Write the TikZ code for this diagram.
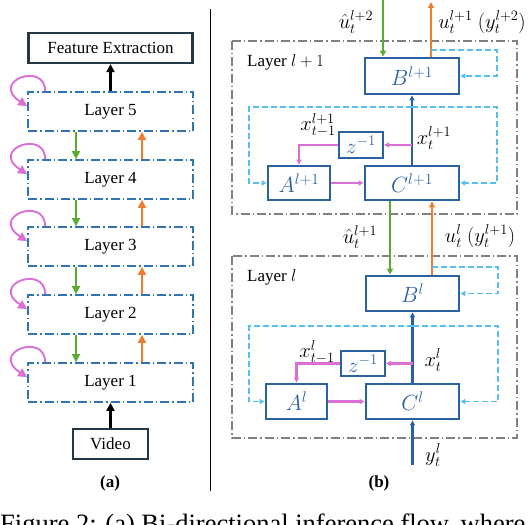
\RequirePackage{fix-cm}
\documentclass[tikz,border=0pt]{standalone}
\usepackage{fontspec}
\setmainfont{Liberation Serif}
\usetikzlibrary{arrows.meta,calc}
\definecolor{lblue}{RGB}{46,117,182}
\definecolor{dblue}{RGB}{42,98,160}
\definecolor{cgreen}{RGB}{92,170,52}
\definecolor{corange}{RGB}{237,125,49}
\definecolor{cpink}{RGB}{218,112,214}
\definecolor{cdash}{RGB}{86,190,240}
\definecolor{cgray}{RGB}{128,128,128}
\definecolor{cframe}{RGB}{35,55,70}
\tikzset{
  dashdot/.style={dash pattern=on 9pt off 3pt on 1.5pt off 3pt},
  layerbox/.style={draw=lblue, line width=1.7pt, dashdot, minimum width=165pt, minimum height=39pt, inner sep=0pt, font=\fontsize{17}{20}\selectfont},
  framebox/.style={draw=cframe, line width=2.2pt, minimum height=30pt, inner sep=0pt, font=\fontsize{17}{20}\selectfont},
  outerbox/.style={draw=cgray, line width=1.5pt, dashdot},
  blk/.style={draw=dblue, line width=2.8pt, text=dblue, inner sep=0pt, font=\fontsize{22}{25}\selectfont},
  lab/.style={inner sep=0pt, font=\fontsize{20.5}{23}\selectfont},
  txt/.style={inner sep=0pt, font=\fontsize{17}{20}\selectfont},
  gA/.style={draw=cgreen, line width=2.2pt, -{Triangle[length=8pt,width=8pt]}},
  oA/.style={draw=corange, line width=2.2pt, -{Triangle[length=8pt,width=8pt]}},
  kA/.style={draw=black, line width=2.2pt, -{Triangle[length=8pt,width=8pt]}},
  loopA/.style={draw=cpink, line width=1.9pt, -{Triangle[length=9pt,width=9pt]}},
  gB/.style={draw=cgreen, line width=2.2pt, -{Triangle[length=6pt,width=6pt]}},
  oB/.style={draw=corange, line width=2.2pt, -{Triangle[length=6pt,width=6pt]}},
  bB/.style={draw=dblue, line width=2.4pt, -{Triangle[length=5pt,width=5pt]}},
  pB/.style={draw=cpink, line width=2.2pt, -{Triangle[length=5pt,width=5pt]}},
  dB/.style={draw=cdash, line width=1.8pt, dash pattern=on 6pt off 3pt, -{Triangle[length=5pt,width=5pt]}},
}
\begin{document}
\begin{tikzpicture}[x=1pt,y=-1pt]
\useasboundingbox (0,0) rectangle (532,524);

% ---------- (a) ----------
\node[framebox, minimum width=164pt] (FE) at (110.5,48) {Feature Extraction};
\node[layerbox] (L5) at (110.5,111.5) {Layer 5};
\node[layerbox] (L4) at (110.5,179.5) {Layer 4};
\node[layerbox] (L3) at (110.5,246.5) {Layer 3};
\node[layerbox] (L2) at (110.5,314.5) {Layer 2};
\node[layerbox] (L1) at (110.5,382.5) {Layer 1};
\node[framebox, minimum width=75pt] (VID) at (110.5,444) {Video};
\node[txt, font=\fontsize{17}{20}\selectfont\bfseries] (capa) at (110,483) {(a)};

\draw[kA] (L5.north -| FE.south) -- (FE.south);
\draw[kA] (VID.north) -- (L1.south -| VID.north);

\coordinate (ga) at (76,0);
\coordinate (oa) at (142,0);
\foreach \u/\l in {L5/L4,L4/L3,L3/L2,L2/L1}{
  \draw[gA] (\u.south -| ga) -- (\l.north -| ga);
  \draw[oA] (\l.north -| oa) -- (\u.south -| oa);
}
\foreach \L in {L5,L4,L3,L2,L1}{
  \draw[loopA] ($(\L.north west)+(18,0)$) .. controls +(0,-30) and +(-38,-25) .. ($(\L.north west)+(0,15)$);
}

% divider
\draw[line width=1.5pt] (210.5,9) -- (210.5,491);

% ---------- (b) ----------
\draw[outerbox] (232,41) rectangle (517,214);
\draw[outerbox] (232,256) rectangle (517,438);
\node[txt, anchor=west] (lay1) at (247,62) {Layer $l+1$};
\node[txt, anchor=west] (lay0) at (247,277) {Layer $l$};

% layer l+1
\node[blk, minimum width=94pt, minimum height=36pt] (B1) at (412,76) {$B^{l+1}$};
\node[blk, minimum width=94pt, minimum height=34pt] (C1) at (412,183) {$C^{l+1}$};
\node[blk, minimum width=62pt, minimum height=34pt] (A1) at (299,183) {$A^{l+1}$};
\node[blk, line width=2pt, minimum width=44pt, minimum height=26pt, font=\fontsize{21}{23}\selectfont] (Z1) at (361,145) {$z^{-1}$};

% layer l
\node[blk, minimum width=93pt, minimum height=35pt] (B0) at (412.5,293.5) {$B^{l}$};
\node[blk, minimum width=93pt, minimum height=35pt] (C0) at (412.5,401.5) {$C^{l}$};
\node[blk, minimum width=61pt, minimum height=35pt] (A0) at (296.5,401.5) {$A^{l}$};
\node[blk, line width=2pt, minimum width=44pt, minimum height=25pt, font=\fontsize{21}{23}\selectfont] (Z0) at (363,363.5) {$z^{-1}$};

% top inputs/outputs
\coordinate (gt) at (383,0);
\coordinate (ot) at (431,2);
\draw[gB] (gt) -- (B1.north -| gt);
\draw[oB] (B1.north -| ot) -- (ot);
\node[lab] (uh2) at (356,22) {$\hat{u}_t^{l+2}$};
\node[lab] (u1) at (482,22) {$u_t^{l+1}\ (y_t^{l+2})$};

% between layers
\coordinate (gm) at (390,0);
\coordinate (om) at (432,0);
\draw[gB] (C1.south -| gm) -- (B0.north -| gm);
\draw[oB] (B0.north -| om) -- (C1.south -| om);
\node[lab] (uh1) at (360,237) {$\hat{u}_t^{l+1}$};
\node[lab] (u0) at (480,236) {$u_t^{l}\ (y_t^{l+1})$};

% internal layer l+1
\draw[bB] (C1.north) -- (B1.south);
\draw[pB] (A1.east) -- (C1.west);
\coordinate (p1) at (412,145);
\draw[pB] (p1) -- (Z1.east);
\draw[pB] (Z1.west) -| (A1.north);
\coordinate (d1) at (431,50);
\draw[dB] (d1) -- (497,50) |- (B1.east);
\coordinate (j1) at (412,107);
\draw[dB] (j1) -- (497,107) |- (C1.east);
\draw[dB] (j1) -- (249,107) |- (A1.west);
\node[lab] (xm1) at (318,125) {$x_{t-1}^{l+1}$};
\node[lab] (x1) at (434,138) {$x_t^{l+1}$};

% internal layer l
\draw[bB] (C0.north) -- (B0.south);
\draw[pB] (A0.east) -- (C0.west);
\coordinate (p0) at (412.5,363.5);
\draw[pB] (p0) -- (Z0.east);
\draw[pB] (Z0.west) -| (A0.north);
\coordinate (d0) at (432,267);
\draw[dB] (d0) -- (498,267) |- (B0.east);
\coordinate (j0) at (412.5,326);
\draw[dB] (j0) -- (498,326) |- (C0.east);
\draw[dB] (j0) -- (249,326) |- (A0.west);
\node[lab] (xm0) at (317,352) {$x_{t-1}^{l}$};
\node[lab] (x0) at (433,360) {$x_t^{l}$};

% input y
\coordinate (yin) at (412.5,465);
\draw[bB] (yin) -- (C0.south);
\node[lab] (y0) at (433,455) {$y_t^{l}$};

\node[txt, font=\fontsize{17}{20}\selectfont\bfseries] (capb) at (379,483) {(b)};

% caption (cut off at bottom)
\node[inner sep=0pt, anchor=base west, font=\fontsize{26.5}{30}\selectfont] (cap) at (0,532) {Figure 2: (a) Bi-directional inference flow, where};
\end{tikzpicture}
\end{document}
